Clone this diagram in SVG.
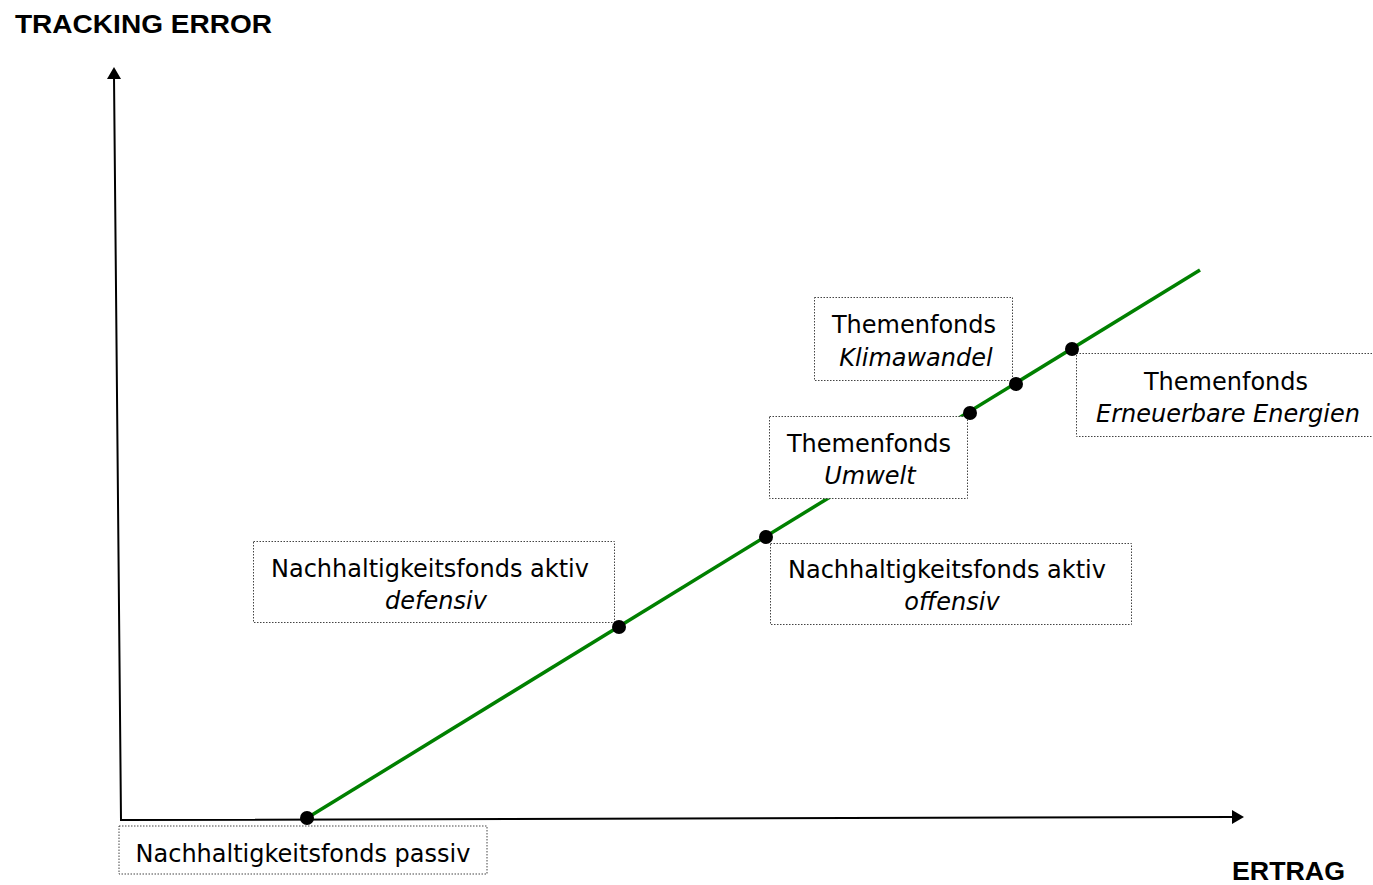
<svg xmlns="http://www.w3.org/2000/svg" width="1373" height="885" viewBox="0 0 1373 885">
<style>
.lbl{font-family:"DejaVu Sans",Verdana,sans-serif;font-size:24px;fill:#000;text-anchor:middle}
.it{font-style:italic}
.ax{font-family:"Liberation Sans",Arial,sans-serif;font-size:26px;font-weight:bold;fill:#000}
.box{fill:#fff;stroke:#444;stroke-width:1;stroke-dasharray:1.5 1.5}
.axis{stroke:#000;stroke-width:2;fill:none}
.dot{fill:#000}
</style>
<rect width="1373" height="885" fill="#fff"/>
<g id="axes">
<text class="ax" x="15" y="33" textLength="257" lengthAdjust="spacingAndGlyphs">TRACKING ERROR</text>
<text class="ax" x="1232" y="880" textLength="113" lengthAdjust="spacingAndGlyphs">ERTRAG</text>
<polyline class="axis" points="114,76 121,820 1234,817"/>
<polygon points="114,67 107,79 121,79" fill="#000"/>
<polygon points="1244,817 1232,810 1232,824" fill="#000"/>
</g>
<g id="connectors">
<line x1="307" y1="818" x2="1200" y2="270" stroke="#008000" stroke-width="3.5"/>
</g>
<g id="node-passiv">
<rect class="box" x="119" y="826" width="368" height="48"/>
<text class="lbl" x="303" y="862">Nachhaltigkeitsfonds passiv</text>
</g>
<g id="node-defensiv">
<rect class="box" x="253.500" y="541.500" width="361" height="81"/>
<text class="lbl" x="430" y="577">Nachhaltigkeitsfonds aktiv</text>
<text class="lbl it" x="436" y="609">defensiv</text>
</g>
<g id="node-offensiv">
<rect class="box" x="770.500" y="543.500" width="361" height="81"/>
<text class="lbl" x="947" y="578">Nachhaltigkeitsfonds aktiv</text>
<text class="lbl it" x="952" y="610">offensiv</text>
</g>
<g id="node-umwelt">
<rect class="box" x="769.500" y="416.500" width="198" height="82"/>
<text class="lbl" x="869" y="452">Themenfonds</text>
<text class="lbl it" x="870" y="484">Umwelt</text>
</g>
<g id="node-klima">
<rect class="box" x="814.500" y="297.500" width="198" height="83"/>
<text class="lbl" x="914" y="333">Themenfonds</text>
<text class="lbl it" x="916" y="366">Klimawandel</text>
</g>
<g id="node-erneuerbar">
<rect class="box" x="1076.500" y="353.500" width="310" height="83"/>
<text class="lbl" x="1226" y="390">Themenfonds</text>
<text class="lbl it" x="1228" y="422">Erneuerbare Energien</text>
</g>
<g id="points">
<circle class="dot" cx="307" cy="818" r="7"/>
<circle class="dot" cx="619" cy="627" r="7"/>
<circle class="dot" cx="766" cy="537" r="7"/>
<circle class="dot" cx="970" cy="413" r="7"/>
<circle class="dot" cx="1016" cy="384" r="7"/>
<circle class="dot" cx="1072" cy="349" r="7"/>
</g>
</svg>
